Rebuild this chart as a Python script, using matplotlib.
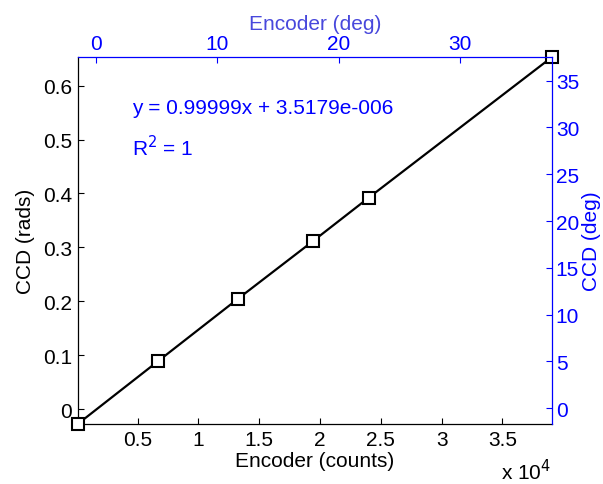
import numpy as np
import matplotlib
matplotlib.use("Agg")
import matplotlib.pyplot as plt

plt.rcParams['font.family'] = ['Liberation Sans', 'DejaVu Sans']
FS = 15
plt.rcParams['font.size'] = FS

# encoder counts vs CCD angle (rads)
enc_counts = [70, 6690, 13220, 19390, 24000, 39050]
ccd_rads = [-0.0278, 0.0890, 0.2040, 0.3110, 0.3920, 0.6525]

xticks = [5000, 10000, 15000, 20000, 25000, 30000, 35000]
xtick_labels = ['0.5', '1', '1.5', '2', '2.5', '3', '3.5']
yticks = [0, 0.1, 0.2, 0.3, 0.4, 0.5, 0.6]
ytick_labels = ['0', '0.1', '0.2', '0.3', '0.4', '0.5', '0.6']

top_ticks = [0, 10, 20, 30]
right_ticks = [0, 5, 10, 15, 20, 25, 30, 35]

fit_text = 'y = 0.99999x + 3.5179e-006'
r2_text = r'R$^2$ = 1'

blue = (0, 0, 1)

fig = plt.figure(figsize=(6.03, 4.85), dpi=100)
pos = [0.1289, 0.1237, 0.786, 0.7561]
ax = fig.add_axes(pos)

ax.plot(enc_counts, ccd_rads, '-', color='k', lw=1.6, zorder=3, clip_on=False)
ax.plot(enc_counts, ccd_rads, 's', ms=8.5, mfc='w', mec='k', mew=1.5,
        zorder=4, clip_on=False)

ax.set_xlim(enc_counts[0], enc_counts[-1])
ax.set_ylim(ccd_rads[0], ccd_rads[-1])
ax.set_xticks(xticks)
ax.set_xticklabels(xtick_labels)
ax.set_yticks(yticks)
ax.set_yticklabels(ytick_labels)
ax.tick_params(direction='in', length=4, width=0.8, colors='k', labelsize=FS,
               pad=4)
ax.spines['top'].set_visible(False)
ax.spines['right'].set_visible(False)
for s in ['left', 'bottom']:
    ax.spines[s].set_linewidth(0.9)
ax.set_xlabel('Encoder (counts)', fontsize=FS, labelpad=2)
ax.set_ylabel('CCD (rads)', fontsize=FS, labelpad=6)
ax.text(0.998, -0.128, r'x 10$^4$', transform=ax.transAxes, ha='right',
        va='center', fontsize=FS)

ax.text(0.114, 0.864, fit_text, transform=ax.transAxes, color=blue,
        fontsize=FS, va='center')
ax.text(0.114, 0.756, r2_text, transform=ax.transAxes, color=blue,
        fontsize=FS, va='center')

# second axes in degrees, top / right
ax2 = fig.add_axes(pos, frameon=False)
ax2.patch.set_visible(False)
ax2.set_xlim(-1.51, 37.56)
ax2.set_ylim(-1.68, 37.5)
ax2.xaxis.tick_top()
ax2.yaxis.tick_right()
ax2.xaxis.set_label_position('top')
ax2.yaxis.set_label_position('right')
ax2.set_xticks(top_ticks)
ax2.set_yticks(right_ticks)
ax2.tick_params(direction='in', length=4, width=0.8, colors=blue,
                labelsize=FS, pad=3)
ax2.set_frame_on(True)
for s in ['left', 'bottom']:
    ax2.spines[s].set_visible(False)
for s in ['top', 'right']:
    ax2.spines[s].set_color(blue)
    ax2.spines[s].set_linewidth(0.9)
ax2.set_xlabel('Encoder (deg)', color='#4848dc', fontsize=FS, labelpad=4)
ax2.set_ylabel('CCD (deg)', color=blue, fontsize=FS, labelpad=2)

fig.savefig('out.png', dpi=100)
